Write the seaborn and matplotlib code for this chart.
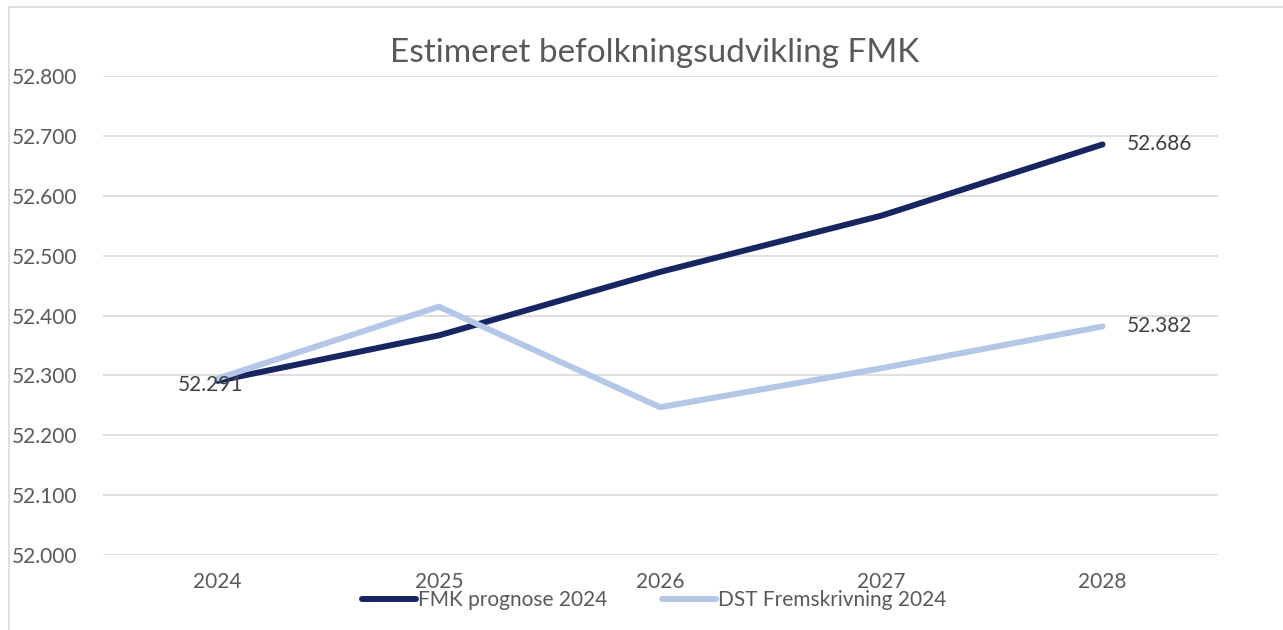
import pandas as pd
import matplotlib.pyplot as plt
import seaborn as sns
from matplotlib.patches import Rectangle

# Data (population in thousands, Danish decimal style)
years = [2024, 2025, 2026, 2027, 2028]
fmk_prognose = [52.291, 52.367, 52.473, 52.567, 52.686]
dst_fremskrivning = [52.295, 52.415, 52.247, 52.312, 52.382]
series_names = ['FMK prognose 2024', 'DST Fremskrivning 2024']
y_ticks = [52.0, 52.1, 52.2, 52.3, 52.4, 52.5, 52.6, 52.7, 52.8]

df = pd.DataFrame({
    'year': years * 2,
    'value': fmk_prognose + dst_fremskrivning,
    'series': [series_names[0]] * len(years) + [series_names[1]] * len(years),
})

sns.set_theme(style='white')
plt.rcParams['font.family'] = ['Lato', 'DejaVu Sans']
text_col = '#595959'

fig = plt.figure(figsize=(12.83, 6.30), dpi=100)
ax = fig.add_axes([0.080, 0.119, 0.869, 0.760])

palette = {series_names[0]: '#172561', series_names[1]: '#B4C7E7'}
sns.lineplot(data=df, x='year', y='value', hue='series', palette=palette,
             linewidth=4.3, ax=ax, legend=False, solid_capstyle='round')

ax.set_xlim(2023.48, 2028.52)
ax.set_ylim(52.0, 52.8)
ax.set_xticks(years)
ax.set_xticklabels([str(y) for y in years], fontsize=15, color=text_col)
ax.set_yticks(y_ticks)
ax.set_yticklabels([f'{v:.3f}' for v in y_ticks], fontsize=15, color=text_col)
ax.tick_params(axis='both', length=0)
ax.tick_params(axis='y', pad=18)
ax.tick_params(axis='x', pad=12)
ax.grid(axis='y', color='#D9D9D9', linewidth=1.2)
ax.set_axisbelow(True)
for s in ax.spines.values():
    s.set_visible(False)
ax.set_xlabel('')
ax.set_ylabel('')

# data labels
lab_col = '#404040'
ax.annotate(f'{fmk_prognose[0]:.3f}', (years[0], fmk_prognose[0]), xytext=(-5, -3),
            textcoords='offset points', ha='center', va='center', fontsize=15, color=lab_col)
ax.annotate(f'{fmk_prognose[-1]:.3f}', (years[-1], fmk_prognose[-1]), xytext=(41, 0),
            textcoords='offset points', ha='center', va='center', fontsize=15, color=lab_col)
ax.annotate(f'{dst_fremskrivning[-1]:.3f}', (years[-1], dst_fremskrivning[-1]), xytext=(41, 0),
            textcoords='offset points', ha='center', va='center', fontsize=15, color=lab_col)

fig.suptitle('Estimeret befolkningsudvikling FMK', x=0.51, y=0.94, fontsize=24, color=text_col)

handles = [plt.Line2D([], [], color=palette[n], linewidth=4.3, solid_capstyle='round') for n in series_names]
leg = fig.legend(handles, series_names, loc='center', bbox_to_anchor=(0.51, 0.047), ncol=2,
                 frameon=False, fontsize=15, handlelength=2.6, columnspacing=2.6, handletextpad=0.1)
for t in leg.get_texts():
    t.set_color(text_col)

# chart frame
fig.patches.append(Rectangle((0.007, -0.01), 1.2, 0.999, transform=fig.transFigure,
                             fill=False, edgecolor='#D9D9D9', linewidth=1.2))

fig.savefig('out.png', dpi=100)
